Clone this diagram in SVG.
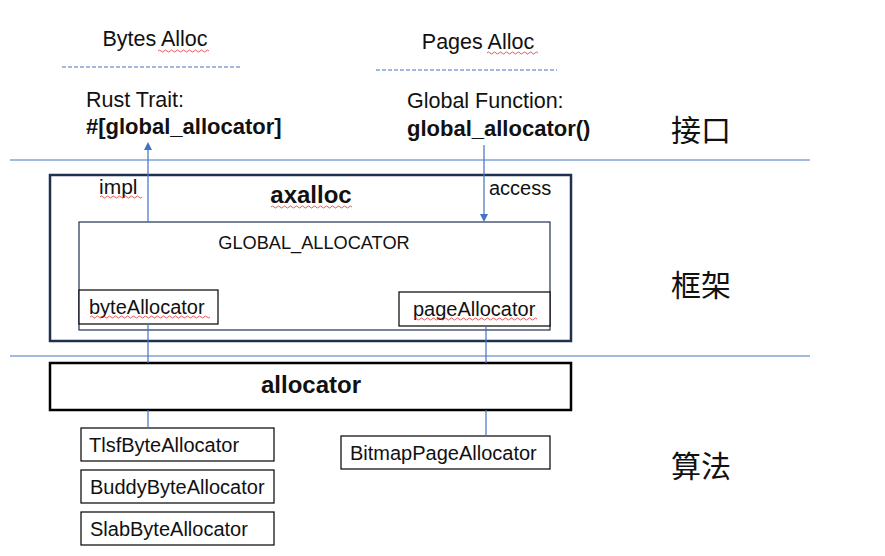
<svg xmlns="http://www.w3.org/2000/svg" width="885" height="556" viewBox="0 0 885 556">
<style>
text{font-family:"Liberation Sans","Noto Sans CJK SC",sans-serif;fill:#111}
.h{font-size:21.5px}
.t{font-size:20px}
.b{font-size:22px;font-weight:bold}
.bb{font-size:24px;font-weight:bold}
.cjk{font-family:"Noto Sans CJK SC",sans-serif;font-size:30px}
.sep{stroke:#4472C4;stroke-width:1}
.conn{stroke:#4472C4;stroke-width:1.2;fill:none}
.dash{stroke:#4472C4;stroke-width:1;stroke-dasharray:4 2}
.box{fill:#fff;stroke:#000;stroke-width:1.2}
.nav{fill:none;stroke:#1F3050;stroke-width:2.5}
.navt{fill:none;stroke:#1F3050;stroke-width:1.2}
.sq{stroke:#E03030;stroke-width:0.8;fill:none}
</style>
<defs>
<marker id="ah" markerWidth="8" markerHeight="8" refX="4" refY="4" orient="auto" markerUnits="userSpaceOnUse">
<path d="M0,0 L8,4 L0,8 z" fill="#4472C4"/>
</marker>
</defs>
<rect width="885" height="556" fill="#fff"/>
<g id="separators">
<line class="sep" x1="10" y1="160" x2="810" y2="160"/>
<line class="sep" x1="10" y1="356" x2="810" y2="356"/>
</g>
<g id="bytes-alloc">
<text class="h" x="155" y="46" text-anchor="middle">Bytes Alloc</text>
<line class="dash" x1="62" y1="67" x2="242" y2="67"/>
<text class="h" x="86" y="107">Rust Trait:</text>
<text class="b" x="86" y="134">#[global_allocator]</text>
</g>
<g id="pages-alloc">
<text class="h" x="478" y="49" text-anchor="middle">Pages Alloc</text>
<line class="dash" x1="376" y1="70" x2="557" y2="70"/>
<text class="h" x="407" y="108">Global Function:</text>
<text class="b" x="407" y="136">global_allocator()</text>
</g>
<g id="layers">
<text class="cjk" x="671" y="141">接口</text>
<text class="cjk" x="671" y="296">框架</text>
<text class="cjk" x="671" y="477">算法</text>
</g>
<g id="axalloc">
<rect class="nav" x="50" y="175" width="521" height="166"/>
<text class="bb" x="311" y="203" text-anchor="middle">axalloc</text>
<text class="t" x="99" y="194" style="font-size:21px">impl</text>
<text class="t" x="489" y="195">access</text>
</g>
<g id="global-allocator">
<rect class="navt" x="79" y="222" width="471" height="108"/>
<text class="t" x="314" y="249" text-anchor="middle" style="font-size:18.2px">GLOBAL_ALLOCATOR</text>
</g>
<g id="byteAllocator">
<rect class="box" x="79" y="290" width="139" height="34"/>
<text class="t" x="89" y="314">byteAllocator</text>
</g>
<g id="pageAllocator">
<rect class="box" x="399" y="292" width="151" height="34"/>
<text class="t" x="413" y="316">pageAllocator</text>
</g>
<g id="allocator">
<rect class="box" x="50" y="363" width="521" height="47" style="stroke-width:2.5"/>
<text class="bb" x="311" y="393" text-anchor="middle">allocator</text>
</g>
<g id="tlsf">
<rect class="box" x="81" y="428" width="193" height="33"/>
<text class="t" x="89" y="452">TlsfByteAllocator</text>
</g>
<g id="buddy">
<rect class="box" x="81" y="470" width="193" height="33"/>
<text class="t" x="90" y="494">BuddyByteAllocator</text>
</g>
<g id="slab">
<rect class="box" x="81" y="512" width="193" height="33"/>
<text class="t" x="90" y="536">SlabByteAllocator</text>
</g>
<g id="bitmap">
<rect class="box" x="341" y="436" width="209" height="33"/>
<text class="t" x="350" y="460">BitmapPageAllocator</text>
</g>
<g id="connectors">
<line class="conn" x1="148" y1="222" x2="148" y2="146" marker-end="url(#ah)"/>
<line class="conn" x1="484" y1="145" x2="484" y2="218" marker-end="url(#ah)"/>
<line class="conn" x1="148" y1="324" x2="148" y2="363"/>
<line class="conn" x1="148" y1="410" x2="148" y2="428"/>
<line class="conn" x1="486" y1="326" x2="486" y2="363"/>
<line class="conn" x1="486" y1="410" x2="486" y2="436"/>
</g>
<g id="spellcheck">
<path class="sq" d="M158,51 q1.5,-2 3,0 t3,0 t3,0 t3,0 t3,0 t3,0 t3,0 t3,0 t3,0 t3,0 t3,0 t3,0 t3,0 t3,0 t3,0 t3,0 t3,0"/>
<path class="sq" d="M487,53 q1.5,-2 3,0 t3,0 t3,0 t3,0 t3,0 t3,0 t3,0 t3,0 t3,0 t3,0 t3,0 t3,0 t3,0 t3,0 t3,0 t3,0 t3,0"/>
<path class="sq" d="M100,197 q1.5,-2 3,0 t3,0 t3,0 t3,0 t3,0 t3,0 t3,0 t3,0 t3,0 t3,0 t3,0 t3,0 t3,0 t3,0"/>
<path class="sq" d="M271,207 q1.5,-2 3,0 t3,0 t3,0 t3,0 t3,0 t3,0 t3,0 t3,0 t3,0 t3,0 t3,0 t3,0 t3,0 t3,0 t3,0 t3,0 t3,0 t3,0 t3,0 t3,0 t3,0 t3,0 t3,0 t3,0 t3,0 t3,0 t3,0"/>
<path class="sq" d="M90,317 q1.5,-2 3,0 t3,0 t3,0 t3,0 t3,0 t3,0 t3,0 t3,0 t3,0 t3,0 t3,0 t3,0 t3,0 t3,0 t3,0 t3,0 t3,0 t3,0 t3,0 t3,0 t3,0 t3,0 t3,0 t3,0 t3,0 t3,0 t3,0 t3,0 t3,0 t3,0 t3,0 t3,0 t3,0 t3,0 t3,0 t3,0 t3,0 t3,0 t3,0 t3,0"/>
<path class="sq" d="M414,319 q1.5,-2 3,0 t3,0 t3,0 t3,0 t3,0 t3,0 t3,0 t3,0 t3,0 t3,0 t3,0 t3,0 t3,0 t3,0 t3,0 t3,0 t3,0 t3,0 t3,0 t3,0 t3,0 t3,0 t3,0 t3,0 t3,0 t3,0 t3,0 t3,0 t3,0 t3,0 t3,0 t3,0 t3,0 t3,0 t3,0 t3,0 t3,0 t3,0 t3,0 t3,0 t3,0"/>
</g>
</svg>
